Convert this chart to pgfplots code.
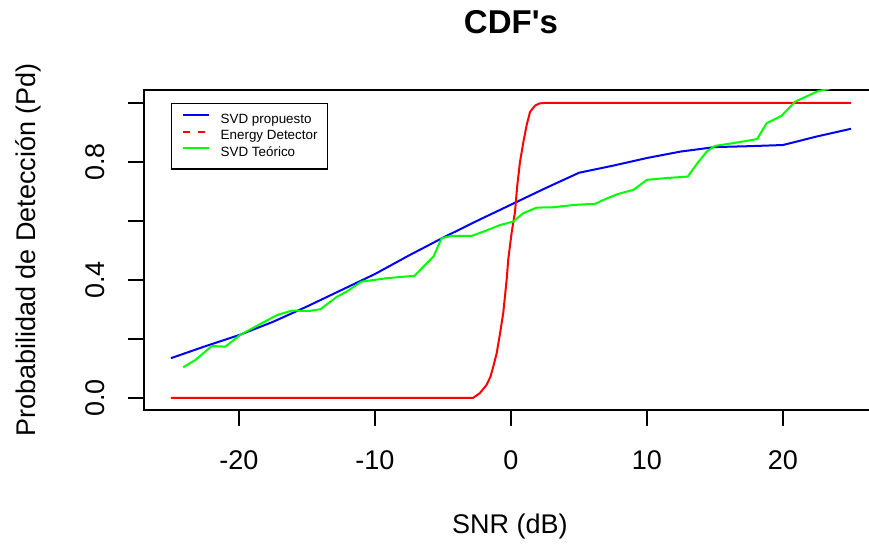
\documentclass[border=0pt]{standalone}
\usepackage{fontspec}
\setmainfont{Liberation Sans}[Ligatures=TeXOff]
\usepackage{pgfplots}
\pgfplotsset{compat=1.18}
\begin{document}
\begin{tikzpicture}
\path[use as bounding box, clip] (-71.9pt,-69.1pt) rectangle (362.6pt,204.9pt);
\begin{axis}[
  scale only axis,
  width=367.2pt, height=160pt,
  xmin=-27, xmax=27, ymin=-0.04, ymax=1.044,
  axis line style={black, line width=0.75pt},
  tick style={black, line width=0.75pt},
  tick align=outside, tick pos=left,
  major tick length=8pt,
  xtick={-20,-10,0,10,20},
  xticklabels={-20,-10,0,10,20},
  ytick={0,0.2,0.4,0.6,0.8,1.0},
  yticklabels={0.0,,0.4,,0.8,},
  tick label style={font=\fontsize{13.5}{16}\selectfont, inner sep=0pt},
  xticklabel style={anchor=base, yshift=-22pt},
  yticklabel style={xshift=-11.4pt, rotate=90, anchor=base},
  title={CDF's},
  every axis title shift=0pt,
  title style={font=\bfseries\fontsize{16.5}{20}\selectfont, at={(axis description cs:0.5,1.175)}, anchor=base, inner sep=0pt},
  xlabel={SNR (dB)},
  xlabel style={font=\fontsize{13.5}{16}\selectfont, at={(axis description cs:0.4986,-0.3875)}, anchor=base, inner sep=0pt},
  ylabel={Probabilidad de Detección (Pd)},
  ylabel style={font=\fontsize{13.5}{16}\selectfont, at={(axis description cs:-0.1468,0.5)}, anchor=base, inner sep=0pt},
  legend cell align=left,
  legend image code/.code={\draw[#1] (0pt,2.4pt) -- (13pt,2.4pt);},
  legend style={at={(axis description cs:0.037,0.959)}, anchor=north west,
    draw=black, line width=0.75pt, fill=white,
    inner xsep=5pt, inner ysep=5pt, row sep=1.9pt,
    font=\fontsize{6.7}{8}\selectfont,
    nodes={inner sep=0pt, text height=4.9pt, text depth=1.4pt},
    /tikz/every odd column/.append style={column sep=5.5pt}},
]
% SVD propuesto
\addplot[blue, line width=1pt, forget plot] coordinates {
(-25,0.135) (-22.5,0.175) (-20,0.213) (-17.5,0.258) (-15,0.31) (-12.5,0.365)
(-10,0.42) (-7.5,0.483) (-5,0.543) (-2.5,0.6) (0,0.655) (2.5,0.71) (5,0.763)
(7.5,0.787) (10,0.813) (12.5,0.835) (15,0.85) (17.5,0.853) (20,0.857)
(22.5,0.886) (25,0.912)};
% Energy Detector
\addplot[red, line width=1pt, forget plot] coordinates {
(-25,0) (-2.8,0) (-2.3,0.016) (-1.8,0.044) (-1.5,0.073) (-1.3,0.107) (-1.05,0.152)
(-0.8,0.22) (-0.57,0.288) (-0.32,0.40) (-0.2,0.47) (0.05,0.561) (0.29,0.629)
(0.46,0.719) (0.66,0.799) (0.91,0.867) (1.15,0.924) (1.4,0.969) (1.76,0.99)
(2.1,0.998) (2.6,1.0) (25,1.0)};
% SVD Teorico
\addplot[green, line width=1pt, forget plot] coordinates {
(-24.1,0.104) (-23.2,0.129) (-22,0.176) (-21,0.174) (-19.9,0.214) (-18.7,0.244)
(-17.2,0.281) (-16.1,0.296) (-14.8,0.295) (-14,0.301) (-12.8,0.343) (-12.1,0.36)
(-11,0.394) (-9.1,0.406) (-7.1,0.414) (-5.7,0.479) (-5.1,0.541) (-4.4,0.549)
(-2.9,0.549) (-2,0.564) (-0.8,0.586) (0.17,0.598) (0.9,0.626) (1.9,0.645)
(3.1,0.646) (4.6,0.654) (6.2,0.658) (6.8,0.671) (7.8,0.69) (8.5,0.699) (9.0,0.705)
(9.5,0.722) (10,0.739) (11.4,0.745) (13,0.75) (13.7,0.795) (14.4,0.835) (15,0.854)
(16.3,0.863) (18.1,0.877) (18.8,0.931) (19.9,0.956) (20.9,1.004) (22.6,1.04)
(23.3,1.046) (25,1.09)};
\addlegendimage{blue, line width=1pt}
\addlegendentry{SVD propuesto}
\addlegendimage{red, line width=1pt, dash pattern=on 3.5pt off 4pt}
\addlegendentry{Energy Detector}
\addlegendimage{green, line width=1pt}
\addlegendentry{SVD Teórico}
\end{axis}
\end{tikzpicture}
\end{document}
